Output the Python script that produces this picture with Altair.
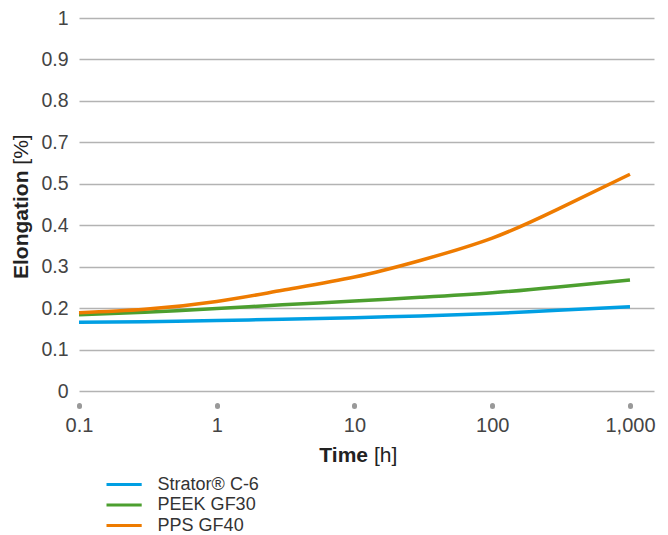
import altair as alt
import pandas as pd

hours = [0.1, 0.3, 1, 3, 10, 30, 100, 300, 1000]
strator = [0.166, 0.167, 0.170, 0.173, 0.177, 0.181, 0.187, 0.195, 0.203]
peek = [0.184, 0.190, 0.199, 0.208, 0.217, 0.226, 0.237, 0.251, 0.268]
pps = [0.189, 0.197, 0.216, 0.243, 0.275, 0.315, 0.369, 0.439, 0.523]

series_names = ["Strator® C-6", "PEEK GF30", "PPS GF40"]
series_colors = ["#009FE3", "#4C9F2F", "#EE7B00"]
x_ticks = [0.1, 1, 10, 100, 1000]
y_ticks = [0, 0.1, 0.2, 0.3, 0.4, 0.5, 0.6, 0.7, 0.8, 0.9]
y_labels = ["0", "0.1", "0.2", "0.3", "0.4", "0.5", "0.7", "0.8", "0.9", "1"]

rows = []
for name, vals in zip(series_names, [strator, peek, pps]):
    for h, v in zip(hours, vals):
        rows.append({"Time": h, "Elongation": v, "Series": name})
df = pd.DataFrame(rows)
one = pd.DataFrame({"k": [0]})

label_expr = "[" + ",".join(f"'{l}'" for l in y_labels) + "][round(datum.value*10)]"

x_enc = alt.X(
    "Time:Q",
    scale=alt.Scale(type="log", domain=[0.1, 1494], nice=False),
    axis=alt.Axis(
        values=x_ticks, format=",~g", title=None, domain=False, grid=False,
        offset=14, tickSize=1, tickWidth=5, tickCap="round", tickColor="#999999",
        labelPadding=9, labelFontSize=20, labelColor="#444444", labelFont="Liberation Sans",
        labelFlush=False,
    ),
)
y_enc = alt.Y(
    "Elongation:Q",
    scale=alt.Scale(domain=[0, 0.9], nice=False, zero=True),
    axis=alt.Axis(
        values=y_ticks, labelExpr=label_expr, title=None, domain=False, ticks=False,
        grid=True, gridColor="#b3b3b3", gridWidth=1.5,
        labelPadding=11, labelFontSize=19.5, labelColor="#444444", labelFont="Liberation Sans",
    ),
)

lines = alt.Chart(df).mark_line(strokeWidth=3.5, interpolate="natural").encode(
    x=x_enc,
    y=y_enc,
    color=alt.Color(
        "Series:N",
        scale=alt.Scale(domain=series_names, range=series_colors),
        sort=series_names,
        legend=alt.Legend(
            title=None, orient="none", legendX=35.6, legendY=457,
            symbolType="M-2.2,0H2.2", symbolSize=256, symbolStrokeWidth=3,
            labelFontSize=18, labelColor="#333333", labelFont="Liberation Sans",
            labelOffset=24, rowPadding=1.5, padding=0,
        ),
    ),
)

txt = dict(font="Liberation Sans", fontSize=21, color="#222222")
y_title_bold = alt.Chart(one).mark_text(
    text="Elongation", angle=270, align="right", baseline="middle", fontWeight="bold", **txt
).encode(x=alt.value(-57), y=alt.value(152.5))
y_title_norm = alt.Chart(one).mark_text(
    text="[%]", angle=270, align="left", baseline="middle", fontWeight="normal", **txt
).encode(x=alt.value(-57), y=alt.value(146.7))
x_title_bold = alt.Chart(one).mark_text(
    text="Time", align="right", baseline="alphabetic", fontWeight="bold", **txt
).encode(x=alt.value(289), y=alt.value(444))
x_title_norm = alt.Chart(one).mark_text(
    text="[h]", align="left", baseline="alphabetic", fontWeight="normal", **txt
).encode(x=alt.value(295), y=alt.value(444))

chart = alt.layer(lines, y_title_bold, y_title_norm, x_title_bold, x_title_norm).properties(
    width=575, height=373,
    autosize=alt.AutoSizeParams(type="none"),
    padding={"left": 71, "top": 10, "right": 6, "bottom": 146},
    background="white",
).configure_view(stroke=None)

chart.save("out.html", embed_options={"renderer": "svg", "actions": False})
